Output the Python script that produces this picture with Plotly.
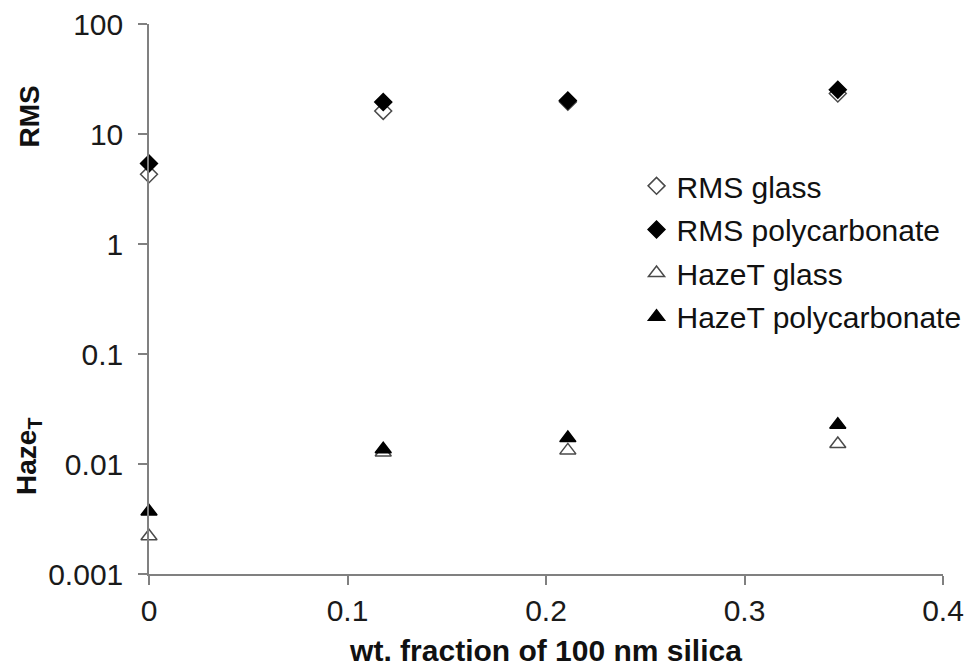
import plotly.graph_objects as go

# weight fraction of 100 nm silica
wt_fraction = [0, 0.118, 0.211, 0.347]

# surface roughness (RMS) and transmitted haze
rms_glass = [4.3, 16.2, 19.6, 23.3]
rms_polycarbonate = [5.4, 19.5, 20.2, 25.3]
haze_glass = [0.0022, 0.0127, 0.0133, 0.0152]
haze_polycarbonate = [0.0037, 0.0136, 0.0172, 0.0228]

y_tickvals = [0.001, 0.01, 0.1, 1, 10, 100]
y_ticktext = ["0.001", "0.01", "0.1", "1", "10", "100"]
x_tickvals = [0, 0.1, 0.2, 0.3, 0.4]
x_ticktext = ["0", "0.1", "0.2", "0.3", "0.4"]

FONT = "Liberation Sans, Arial, sans-serif"
OPEN = "#4a4a4a"
FILL = "#000000"

series = [
    ("RMS glass", rms_glass, "diamond-open", OPEN, 13),
    ("RMS polycarbonate", rms_polycarbonate, "diamond", FILL, 13),
    ("HazeT glass", haze_glass, "triangle-up-open", OPEN, 14),
    ("HazeT polycarbonate", haze_polycarbonate, "triangle-up", FILL, 14),
]

fig = go.Figure()
for name, values, symbol, color, size in series:
    fig.add_trace(go.Scatter(
        x=wt_fraction, y=values, mode="markers", name=name,
        legendgroup=name, cliponaxis=False,
        marker=dict(symbol=symbol, size=size, color=color,
                    line=dict(color=color, width=1.5)),
    ))

fig.update_layout(
    width=974, height=667,
    margin=dict(l=149, r=31, t=24, b=93, autoexpand=False),
    paper_bgcolor="white", plot_bgcolor="white",
    font=dict(family=FONT, size=28, color="#1a1a1a"),
    showlegend=True,
    legend=dict(
        x=0.614, y=0.753, xanchor="left", yanchor="top",
        bgcolor="rgba(0,0,0,0)", font=dict(size=30, color="#111"),
        traceorder="grouped", tracegroupgap=1.6, itemwidth=30,
    ),
    xaxis=dict(
        range=[0, 0.4], tickvals=x_tickvals, ticktext=x_ticktext,
        showgrid=False, zeroline=False, showline=True,
        linecolor="#808080", linewidth=1.5,
        ticks="outside", ticklen=9, tickcolor="#808080", tickwidth=1.5,
        tickfont=dict(size=30), automargin=False,
        title=dict(text="<b>wt. fraction of 100 nm silica</b>",
                   font=dict(size=30, color="#111"), standoff=14),
    ),
    yaxis=dict(
        type="log", range=[-3, 2], tickvals=y_tickvals, ticktext=y_ticktext,
        showgrid=False, zeroline=False, showline=True,
        linecolor="#808080", linewidth=1.5,
        ticks="outside", ticklen=9, tickcolor="#808080", tickwidth=1.5,
        tickfont=dict(size=30), ticklabelstandoff=9, automargin=False,
    ),
    annotations=[
        dict(text="<b>RMS</b>", xref="paper", yref="paper",
             x=-0.151, y=0.832, xanchor="center", yanchor="middle",
             showarrow=False, textangle=-90,
             font=dict(size=28, color="#111")),
        dict(text="<b>Haze<sub>T</sub></b>", xref="paper", yref="paper",
             x=-0.151, y=0.213, xanchor="center", yanchor="middle",
             showarrow=False, textangle=-90,
             font=dict(size=28, color="#111")),
    ],
)

fig.write_html("out.html")
